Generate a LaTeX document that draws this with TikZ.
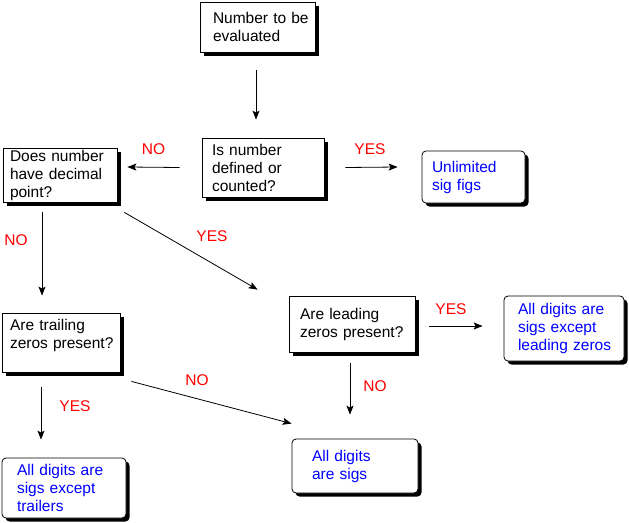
\documentclass[tikz,border=0pt]{standalone}
\usepackage{fontspec}
\setmainfont{Liberation Sans}
\usetikzlibrary{arrows.meta,shadows}
\hyphenpenalty=10000
\exhyphenpenalty=10000

\begin{document}
\begin{tikzpicture}[x=1pt,y=-1pt,
        box/.style={draw,fill=white,line width=0.8pt,align=left,inner ysep=0pt,
            font=\fontsize{15.5pt}{18pt}\selectfont,
            drop shadow={shadow xshift=3.5pt,shadow yshift=-3.5pt,opacity=1,fill=black}},
        answer/.style={box,rounded corners=4pt,text=blue},
        arr/.style={-{Stealth[length=9pt,width=7pt,inset=2pt]},line width=0.8pt},
        lbl/.style={text=red,font=\fontsize{15.5pt}{18pt}\selectfont,inner sep=0pt}]
        \useasboundingbox(0,0)rectangle(629,522);

        % questions
        \node[box,minimum width=115pt,minimum height=50pt,inner xsep=13pt,text width=89pt](num)at(257.5,27){Number~to~be\\evaluated};
        \node[box,minimum width=122pt,minimum height=59pt,inner xsep=10pt,text width=102pt](defd)at(263,167.5){Is~number\\defined~or\\counted?};
        \node[box,minimum width=114pt,minimum height=54pt,inner xsep=7pt,text width=100pt](dec)at(60,175){Does~number\\have~decimal\\point?};
        \node[box,minimum width=118pt,minimum height=59pt,inner xsep=8pt,text width=102pt,text depth=35pt](trl)at(61,342.5){Are~trailing\\zeros~present?};
        \node[box,minimum width=126pt,minimum height=56pt,inner xsep=11pt,text width=104pt](lead)at(352,324){Are~leading\\zeros~present?};

        % answers
        \node[answer,minimum width=103pt,minimum height=52pt,inner xsep=10pt,text width=83pt](unl)at(473.5,177){Unlimited\\sig~figs};
        \node[answer,minimum width=120pt,minimum height=65pt,inner xsep=14pt,text width=92pt](ldz)at(564,328.5){All~digits~are\\sigs~except\\leading~zeros};
        \node[answer,minimum width=126pt,minimum height=54pt,inner xsep=20pt,text width=86pt](sigs)at(355,466){All~digits\\are~sigs};
        \node[answer,minimum width=124pt,minimum height=60pt,inner xsep=15pt,text width=94pt](trs)at(64,488){All~digits~are\\sigs~except\\trailers};

        % arrows
        \draw[arr]([shift={(-1.5,18)}]num.south)--([shift={(-7,-18)}]defd.north);
        \draw[arr]([shift={(-22,0)}]defd.west)--([shift={(10,-8)}]dec.east)
            node[lbl,midway,shift={(0,-18)}]{NO};
        \draw[arr]([shift={(21,0)}]defd.east)--([shift={(-24,-10)}]unl.west)
            node[lbl,midway,shift={(-1.5,-18)}]{YES};
        \draw[arr]([shift={(-18,10)}]dec.south)--([shift={(-19,-17)}]trl.north)
            node[lbl,midway,shift={(-26,-14)}]{NO};
        \draw[arr]([shift={(7,10)}]dec.south east)--([shift={(-31,-6)}]lead.north west)
            node[lbl,midway,shift={(21,-15)}]{YES};
        \draw[arr]([shift={(14,2)}]lead.east)--([shift={(-21,-2.5)}]ldz.west)
            node[lbl,midway,shift={(-5,-17)}]{YES};
        \draw[arr]([shift={(-2,11)}]lead.south)--([shift={(-5,-24)}]sigs.north)
            node[lbl,midway,shift={(25,-3)}]{NO};
        \draw[arr]([shift={(11,9)}]trl.south east)--([shift={(0,-15)}]sigs.north west)
            node[lbl,midway,shift={(-14.5,-22.5)}]{NO};
        \draw[arr]([shift={(-20,15)}]trl.south)--([shift={(-23,-18)}]trs.north)
            node[lbl,midway,shift={(34,-7.5)}]{YES};
\end{tikzpicture}
\end{document}
